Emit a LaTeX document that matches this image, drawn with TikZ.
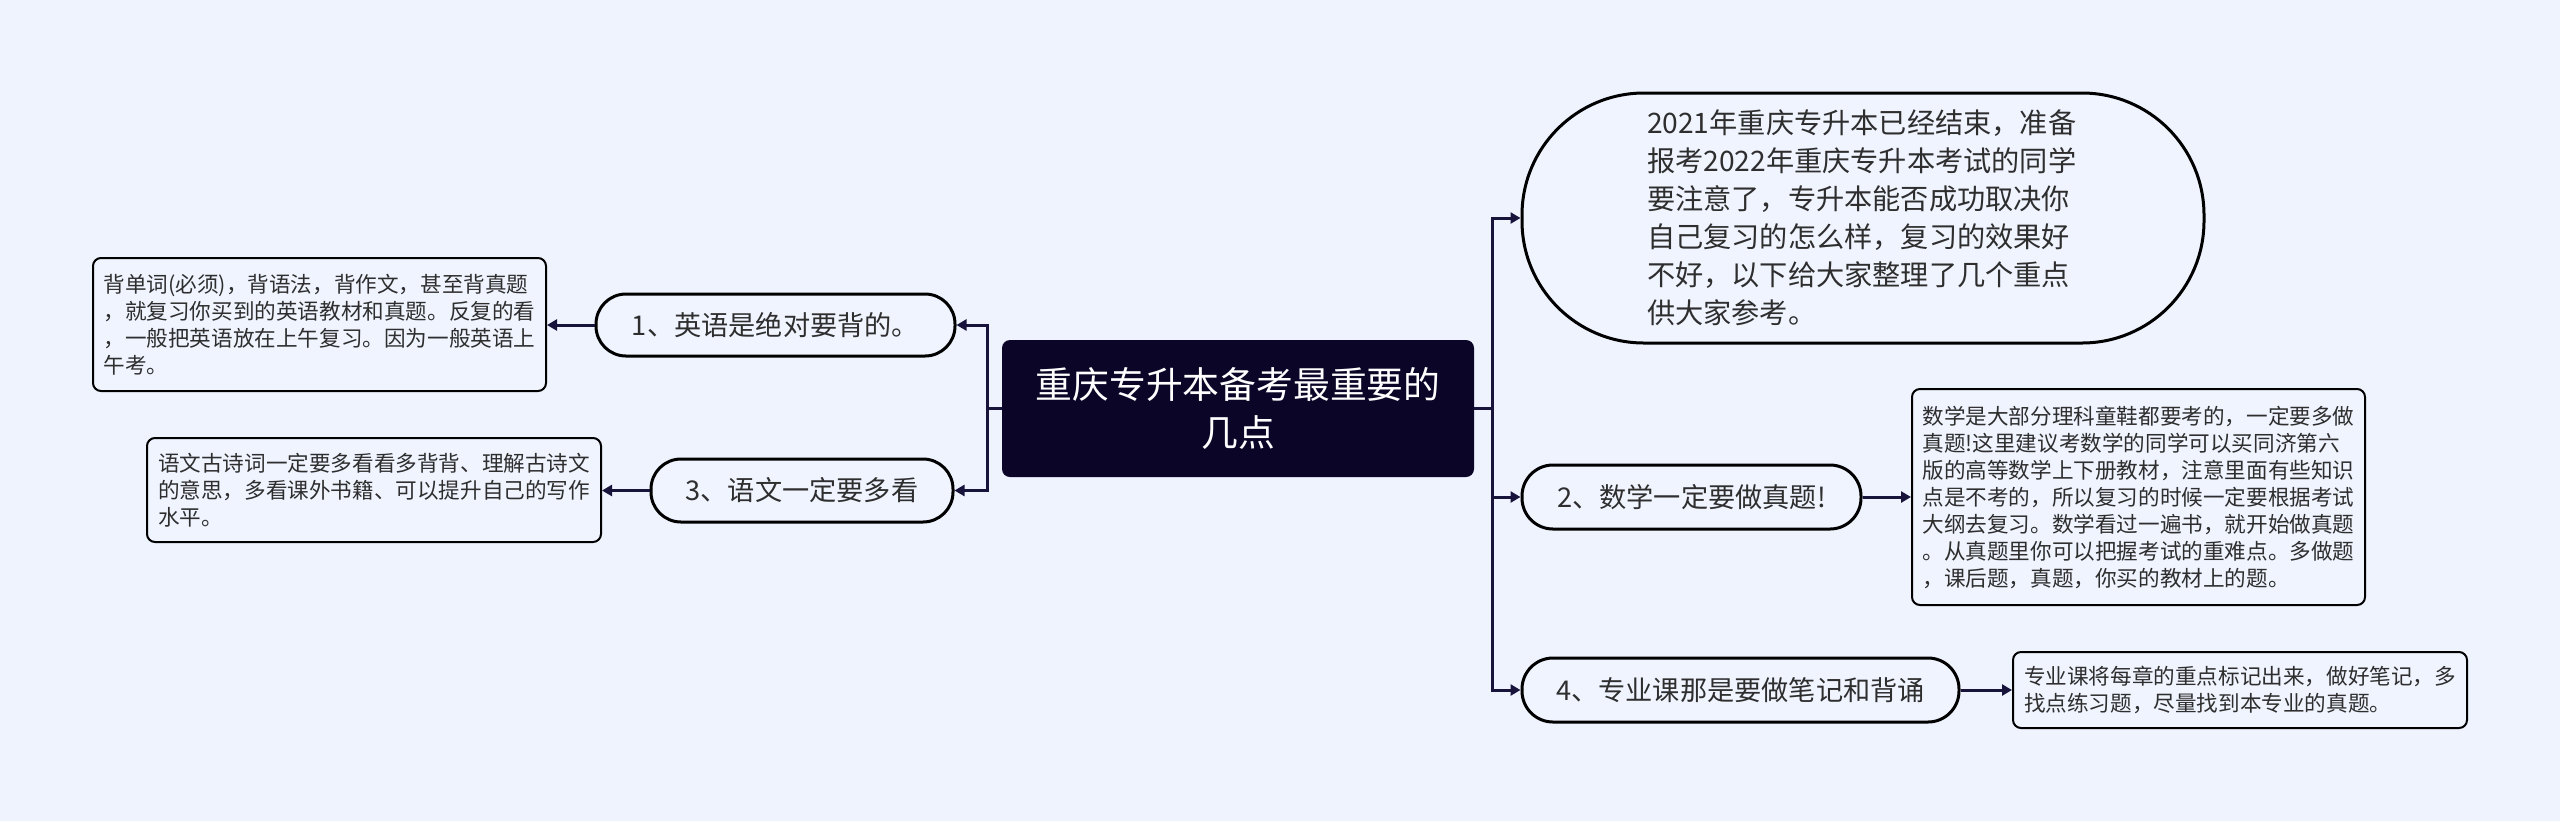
\documentclass[tikz,border=0pt]{standalone}
\usepackage{fontspec}
\setmainfont{Noto Sans CJK SC}
\usetikzlibrary{arrows.meta}
\definecolor{bg}{HTML}{EEF3FE}
\definecolor{nodefill}{HTML}{F0F4FF}
\definecolor{linecol}{HTML}{18133A}
\definecolor{centerfill}{HTML}{0B0627}
\definecolor{txt}{HTML}{2E2E2E}
\begin{document}
\begin{tikzpicture}[x=0.5pt,y=-0.5pt,
  topic/.style={draw=black, line width=1.5pt, fill=nodefill, inner sep=0pt, text=txt,
    font=\fontsize{13.6}{17}\selectfont},
  infobox/.style={draw=black, line width=1pt, fill=nodefill, rounded corners=4pt, inner sep=0pt,
    text=txt, align=left, text width=216pt, font=\fontsize{10.8}{13.5}\selectfont},
  conn/.style={draw=linecol, line width=1.5pt, -{Triangle[length=5pt,width=5.5pt]}},
  link/.style={draw=linecol, line width=1.5pt}
]
\fill[bg] (0,0) rectangle (2560,821);
\useasboundingbox (0,0) rectangle (2560,821);

% central node
\node[fill=centerfill, rounded corners=4pt, minimum width=236pt, minimum height=68.5pt,
  inner sep=0pt, text=white, align=center, font=\fontsize{18.4}{24}\selectfont]
  (c) at (1238,408.5) {重庆专升本备考最重要的\\几点};

% left topics
\node[topic, rounded corners=15pt, minimum width=179.5pt, minimum height=31pt]
  (n1) at (775.5,325) {1、英语是绝对要背的。};
\node[topic, rounded corners=15pt, minimum width=151pt, minimum height=31.5pt]
  (n3) at (802,490.5) {3、语文一定要多看};

% right topics
\node[topic, rounded corners=61pt, minimum width=341pt, minimum height=125pt,
  align=left, text width=216pt, font=\fontsize{14.1}{19}\selectfont]
  (n0) at (1863,218) {2021年重庆专升本已经结束，准备\\报考2022年重庆专升本考试的同学\\要注意了，专升本能否成功取决你\\自己复习的怎么样，复习的效果好\\不好，以下给大家整理了几个重点\\供大家参考。};
\node[topic, rounded corners=15.5pt, minimum width=169.5pt, minimum height=32pt]
  (n2) at (1691.5,497) {2、数学一定要做真题!};
\node[topic, rounded corners=15.5pt, minimum width=218.5pt, minimum height=32pt]
  (n4) at (1740.5,690) {4、专业课那是要做笔记和背诵};

% detail boxes
\node[infobox, minimum width=226.5pt, minimum height=66.5pt] (b1) at (319.5,324.5)
  {背单词(必须)，背语法，背作文，甚至背真题\\，就复习你买到的英语教材和真题。反复的看\\，一般把英语放在上午复习。因为一般英语上\\午考。};
\node[infobox, minimum width=227pt, minimum height=52pt] (b3) at (374,490)
  {语文古诗词一定要多看看多背背、理解古诗文\\的意思，多看课外书籍、可以提升自己的写作\\水平。};
\node[infobox, minimum width=226.5pt, minimum height=108pt] (b2) at (2138.5,497)
  {数学是大部分理科童鞋都要考的，一定要多做\\真题!这里建议考数学的同学可以买同济第六\\版的高等数学上下册教材，注意里面有些知识\\点是不考的，所以复习的时候一定要根据考试\\大纲去复习。数学看过一遍书，就开始做真题\\。从真题里你可以把握考试的重难点。多做题\\，课后题，真题，你买的教材上的题。};
\node[infobox, minimum width=227pt, minimum height=38pt] (b4) at (2240,690)
  {专业课将每章的重点标记出来，做好笔记，多\\找点练习题，尽量找到本专业的真题。};

% trunks
\coordinate (lt) at (987,408.5);
\coordinate (rt) at (1492,408.5);
\draw[link] (c.west) -- (lt);
\draw[link] (c.east) -- (rt);
\draw[conn] (lt) |- (n1.east);
\draw[conn] (lt) |- (n3.east);
\draw[conn] (rt) |- (n0.west);
\draw[conn] (rt) |- (n2.west);
\draw[conn] (rt) |- (n4.west);

% topic to detail
\draw[conn] (n1.west) -- (n1.west -| b1.east);
\draw[conn] (n3.west) -- (n3.west -| b3.east);
\draw[conn] (n2.east) -- (n2.east -| b2.west);
\draw[conn] (n4.east) -- (n4.east -| b4.west);
\end{tikzpicture}
\end{document}
